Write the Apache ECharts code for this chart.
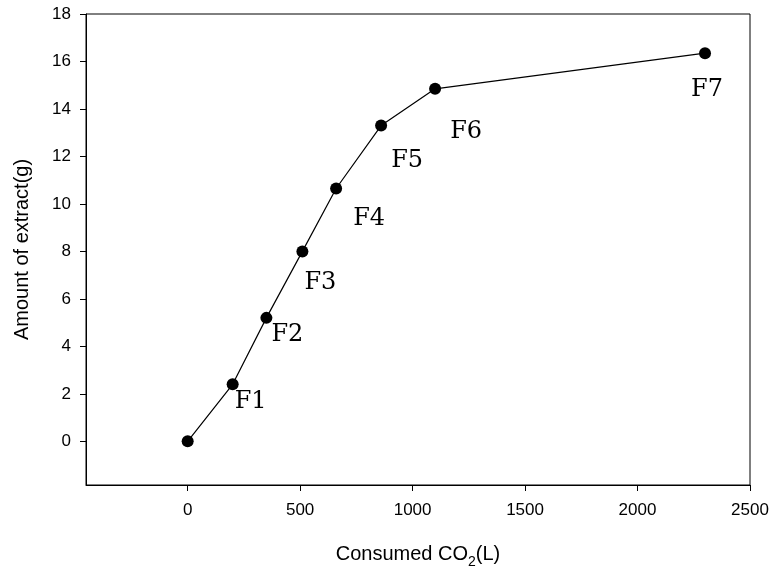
<!DOCTYPE html>
<html>
<head>
<meta charset="utf-8">
<script src="https://cdn.jsdelivr.net/npm/echarts@6/dist/echarts.min.js"></script>
<style>html,body{margin:0;padding:0;background:#fff}#c{width:772px;height:569px}</style>
</head>
<body>
<div id="c"></div>
<script>
// Data
var co2 = [0, 200, 350, 510, 660, 860, 1100, 2300];
var extract = [0, 2.4, 5.2, 8.0, 10.65, 13.3, 14.85, 16.35];
var pointLabels = ['', 'F1', 'F2', 'F3', 'F4', 'F5', 'F6', 'F7'];
var xTicks = [0, 500, 1000, 1500, 2000, 2500];
var yTicks = [0, 2, 4, 6, 8, 10, 12, 14, 16, 18];

// label offsets (style)
var labelOffsets = [[0,0],[18,17],[21,17],[18,31],[33,30],[26,35],[31,43],[2,37]];

var seriesData = co2.map(function (x, i) {
  return {
    value: [x, extract[i]],
    label: {
      show: pointLabels[i] !== '',
      formatter: pointLabels[i],
      position: 'inside',
      offset: labelOffsets[i]
    }
  };
});

var chart = echarts.init(document.getElementById('c'), null, {renderer: 'canvas'});
var axisFont = 'Liberation Sans';
chart.setOption({
  animation: false,
  backgroundColor: '#fff',
  grid: {left: 86, right: 22, top: 14, bottom: 84, show: true, borderColor: '#000', borderWidth: 1,
         backgroundColor: 'transparent', containLabel: false, outerBoundsMode: 'none'},
  xAxis: {
    type: 'value', min: -452, max: 2500,
    name: 'Consumed CO{sub|2}(L)',
    nameLocation: 'middle', nameGap: 54,
    nameTextStyle: {
      fontFamily: axisFont, fontSize: 20, color: '#000', lineHeight: 30,
      rich: {sub: {fontFamily: axisFont, fontSize: 14, color: '#000', verticalAlign: 'bottom', lineHeight: 30}}
    },
    axisLine: {show: true, onZero: false, lineStyle: {color: '#000', width: 1}},
    axisTick: {show: true, inside: false, length: 6, customValues: xTicks, lineStyle: {color: '#000'}},
    axisLabel: {customValues: xTicks, margin: 17, fontFamily: axisFont, fontSize: 17, color: '#000',
                formatter: function (v) { return String(v); }},
    splitLine: {show: false}
  },
  yAxis: {
    type: 'value', min: -1.84, max: 18,
    name: 'Amount of extract(g)',
    nameLocation: 'middle', nameGap: 54,
    nameTextStyle: {fontFamily: axisFont, fontSize: 20, color: '#000'},
    axisLine: {show: true, onZero: false, lineStyle: {color: '#000', width: 1}},
    axisTick: {show: true, inside: false, length: 6, customValues: yTicks, lineStyle: {color: '#000'}},
    axisLabel: {customValues: yTicks, margin: 15, fontFamily: axisFont, fontSize: 17, color: '#000',
                formatter: function (v) { return String(v); }},
    splitLine: {show: false}
  },
  series: [{
    type: 'line',
    data: seriesData,
    symbol: 'circle',
    symbolSize: 12,
    itemStyle: {color: '#000'},
    lineStyle: {color: '#000', width: 1.2},
    label: {fontFamily: 'DejaVu Serif', fontSize: 24, color: '#000'},
    emphasis: {disabled: true}
  }]
});
</script>
</body>
</html>
